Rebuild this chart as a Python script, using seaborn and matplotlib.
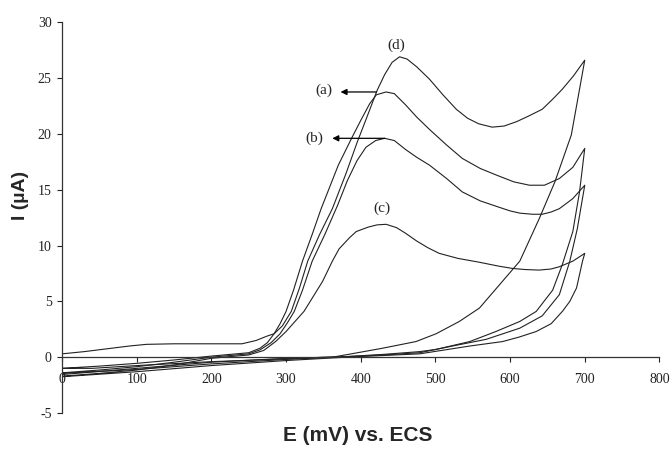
import pandas as pd
import matplotlib
matplotlib.use('Agg')
import matplotlib.pyplot as plt
import seaborn as sns

# ---------------- DATA ----------------
# curve (a)
a_fwd_E = [0, 50, 100, 150, 200, 250, 265, 275, 284, 292, 300, 310, 322, 335, 347, 370, 387, 400, 412, 421, 434,
           445, 460, 475, 492, 515, 536, 560, 582, 605, 626, 646, 666, 684, 700]
a_fwd_I = [-1.0, -0.8, -0.55, -0.25, 0.1, 0.4, 0.8, 1.3, 2.1, 3.0, 4.1, 6.0, 8.6, 11.0, 13.3, 17.2, 19.5, 21.2, 22.7,
           23.5, 23.75, 23.6, 22.6, 21.5, 20.4, 19.0, 17.8, 16.9, 16.3, 15.7, 15.4, 15.4, 16.0, 17.0, 18.7]
a_rev_E = [700, 693, 684, 670, 657, 635, 613, 581, 546, 501, 479, 430, 380, 350, 300, 200, 100, 40, 0]
a_rev_I = [18.7, 14.8, 11.25, 8.3, 6.0, 4.1, 3.2, 2.3, 1.4, 0.7, 0.5, 0.25, 0.05, 0.0, -0.15, -0.4, -0.75, -1.0, -1.0]

# curve (b)
b_fwd_E = [0, 50, 100, 150, 200, 250, 265, 280, 292, 302, 311, 322, 335, 352, 369, 382, 395, 407, 420, 432,
           445, 460, 475, 492, 515, 536, 560, 582, 600, 613, 630, 643, 655, 666, 684, 700]
b_fwd_I = [-1.4, -1.15, -0.85, -0.45, 0.0, 0.3, 0.65, 1.3, 2.1, 3.1, 4.1, 6.0, 8.6, 11.0, 13.6, 15.8, 17.6, 18.8,
           19.4, 19.6, 19.4, 18.6, 17.9, 17.2, 16.0, 14.8, 14.0, 13.5, 13.1, 12.9, 12.8, 12.8, 13.0, 13.3, 14.2, 15.4]
b_rev_E = [700, 690, 680, 666, 643, 613, 568, 523, 479, 430, 380, 350, 300, 200, 100, 0]
b_rev_I = [15.4, 11.5, 8.6, 5.6, 3.7, 2.6, 1.6, 1.0, 0.4, 0.2, 0.05, -0.05, -0.2, -0.6, -1.1, -1.45]

# curve (c)
c_fwd_E = [0, 50, 100, 150, 200, 250, 270, 286, 300, 312, 324, 337, 349, 362, 371, 385, 394, 410, 422, 434,
           448, 460, 475, 490, 505, 530, 559, 585, 603, 620, 639, 655, 666, 684, 700]
c_fwd_I = [-1.7, -1.45, -1.15, -0.7, -0.1, 0.2, 0.6, 1.4, 2.3, 3.2, 4.1, 5.5, 6.8, 8.6, 9.7, 10.7, 11.25, 11.65,
           11.85, 11.9, 11.6, 11.1, 10.4, 9.8, 9.3, 8.85, 8.5, 8.15, 7.95, 7.85, 7.8, 7.9, 8.1, 8.6, 9.3]
c_rev_E = [700, 697, 689, 680, 670, 655, 635, 612, 590, 546, 479, 430, 380, 300, 200, 100, 0]
c_rev_I = [9.3, 8.6, 6.2, 5.0, 4.1, 3.0, 2.3, 1.8, 1.4, 1.0, 0.3, 0.15, 0.0, -0.3, -0.75, -1.3, -1.75]

# curve (d)
d_fwd_E = [0, 30, 60, 90, 113, 150, 200, 241, 260, 275, 284, 295, 307, 318, 329, 345, 362, 380, 395, 410, 422,
           432, 442, 452, 462, 475, 492, 510, 528, 543, 558, 576, 592, 609, 625, 643, 657, 670, 685, 700]
d_fwd_I = [0.3, 0.5, 0.75, 1.0, 1.15, 1.2, 1.2, 1.2, 1.5, 1.9, 2.1, 2.8, 4.1, 6.2, 8.6, 11.0, 13.3, 16.4, 19.2,
           21.8, 23.9, 25.3, 26.4, 26.9, 26.7, 26.0, 24.9, 23.5, 22.2, 21.4, 20.9, 20.6, 20.7, 21.1, 21.6, 22.2,
           23.1, 24.0, 25.2, 26.6]
d_rev_E = [700, 682, 660, 639, 613, 586, 559, 532, 501, 474, 429, 385, 362, 300, 200, 100, 0]
d_rev_I = [26.6, 19.9, 15.7, 12.4, 8.6, 6.5, 4.4, 3.2, 2.1, 1.4, 0.8, 0.27, 0.0, -0.1, -0.45, -1.0, -1.55]

x_ticks = [0, 100, 200, 300, 400, 500, 600, 700, 800]
y_ticks = [-5, 0, 5, 10, 15, 20, 25, 30]

# ---------------- MONTAR O DATAFRAME ----------------
curvas = {
    'a': (a_fwd_E + a_rev_E, a_fwd_I + a_rev_I),
    'b': (b_fwd_E + b_rev_E, b_fwd_I + b_rev_I),
    'c': (c_fwd_E + c_rev_E, c_fwd_I + c_rev_I),
    'd': (d_fwd_E + d_rev_E, d_fwd_I + d_rev_I),
}
partes = []
for nome, (E, I) in curvas.items():
    partes.append(pd.DataFrame({'E': E, 'I': I, 'curva': nome}))
df = pd.concat(partes, ignore_index=True)

# ---------------- GRAFICO ----------------
sns.set_style('white')
plt.rcParams['font.family'] = ['Liberation Serif', 'DejaVu Serif']
plt.rcParams['axes.unicode_minus'] = False

fig = plt.figure(figsize=(6.72, 4.62), dpi=100)
ax = fig.add_axes([0.0923, 0.106, 0.889, 0.846])

sns.lineplot(data=df, x='E', y='I', units='curva', estimator=None, sort=False,
             color='#222222', linewidth=0.8, ax=ax)

ax.set_xlim(0, 800)
ax.set_ylim(-5, 30)
ax.set_xticks(x_ticks)
ax.set_yticks(y_ticks)
ax.set_xlabel('')
ax.set_ylabel('')

# eixos no estilo Excel
ax.spines['top'].set_visible(False)
ax.spines['right'].set_visible(False)
ax.spines['bottom'].set_position(('data', 0))
for s in ['left', 'bottom']:
    ax.spines[s].set_color('#333333')
    ax.spines[s].set_linewidth(0.9)

ax.tick_params(axis='y', direction='out', length=3.5, width=0.8, pad=4, labelsize=10, left=True, colors='#222222')
ax.tick_params(axis='x', direction='out', length=3.5, width=0.8, pad=8, labelsize=10, bottom=True, colors='#222222')

# rotulos das curvas
ax.text(448, 27.9, '(d)', ha='center', va='center', fontsize=11)
ax.text(350, 23.9, '(a)', ha='center', va='center', fontsize=11)
ax.text(338, 19.6, '(b)', ha='center', va='center', fontsize=11)
ax.text(428, 13.3, '(c)', ha='center', va='center', fontsize=11)

setas = dict(arrowstyle='-|>', color='black', lw=0.9, mutation_scale=9, shrinkA=0, shrinkB=0)
ax.annotate('', xy=(373, 23.75), xytext=(421, 23.75), arrowprops=setas)
ax.annotate('', xy=(362, 19.6), xytext=(432, 19.6), arrowprops=setas)

fig.text(0.030, 0.578, 'I (µA)', rotation=90, ha='center', va='center',
         fontsize=14, fontweight='bold', family=['Liberation Sans', 'DejaVu Sans'])
fig.text(0.533, 0.058, 'E (mV) vs. ECS', ha='center', va='center',
         fontsize=15, fontweight='bold', family=['Liberation Sans', 'DejaVu Sans'])

plt.savefig('out.png', dpi=100, facecolor='white')
